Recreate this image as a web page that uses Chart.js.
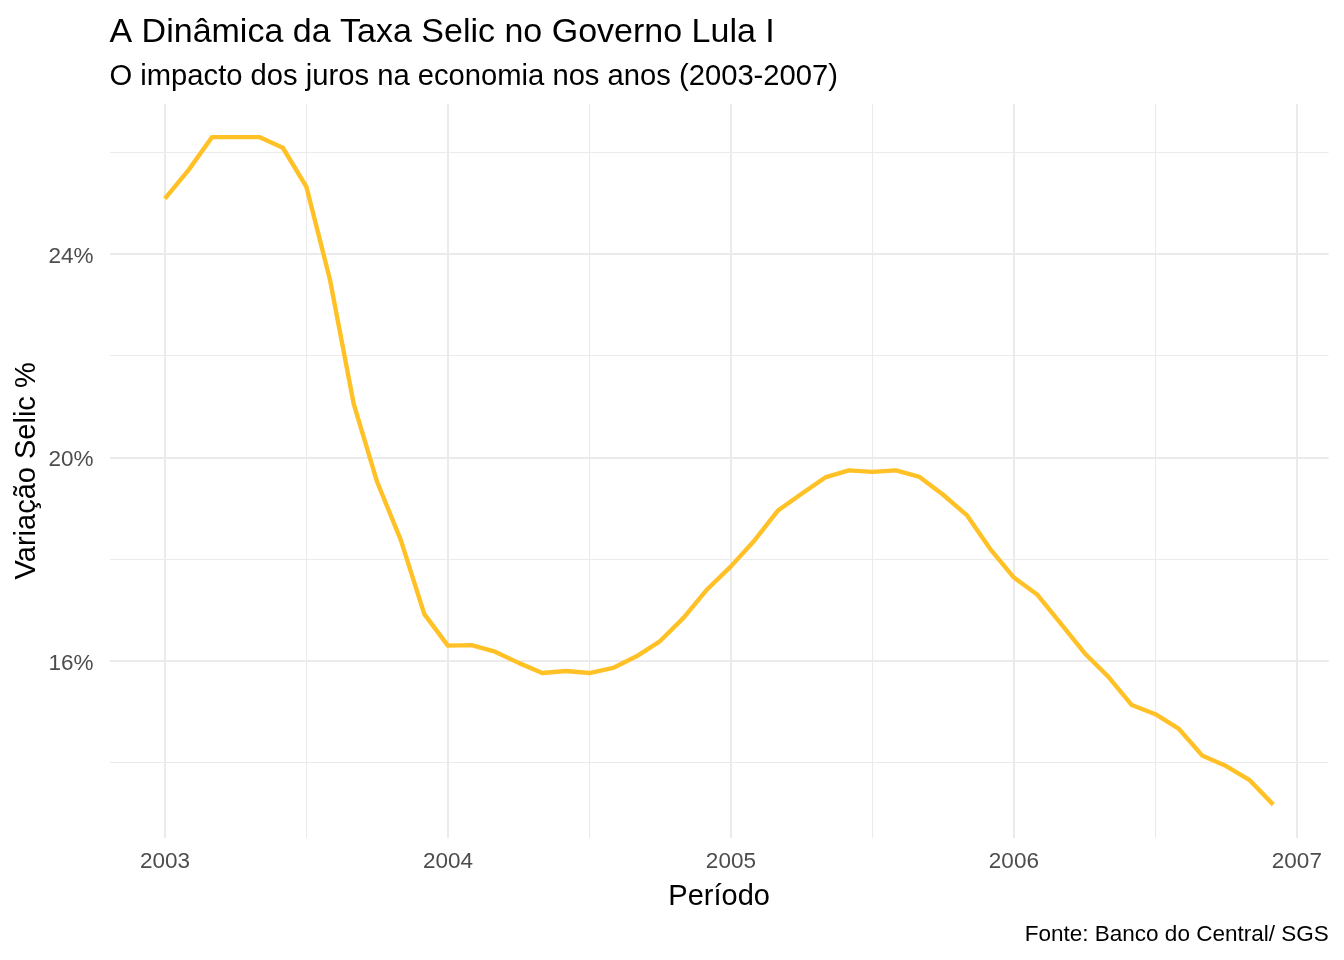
<!DOCTYPE html>
<html lang="pt-BR">
<head>
<meta charset="utf-8">
<title>Taxa Selic - Governo Lula I</title>
<script src="https://cdn.jsdelivr.net/npm/chart.js@4.4.1/dist/chart.umd.min.js"></script>
<style>
  html, body { margin: 0; padding: 0; background: #fff; }
  #wrap { width: 1344px; height: 960px; }
</style>
</head>
<body>
<div id="wrap"><canvas id="selic" width="1344" height="960"></canvas></div>
<script>
// Selic média mensal (% a.a.), jan..dez de cada ano
var selic2003 = [25.10, 25.66, 26.31, 26.31, 26.31, 26.10, 25.33, 23.50, 21.07, 19.52, 18.38, 16.92];
var selic2004 = [16.30, 16.31, 16.18, 15.96, 15.76, 15.80, 15.76, 15.86, 16.09, 16.39, 16.85, 17.41];
var selic2005 = [17.86, 18.37, 18.96, 19.29, 19.61, 19.75, 19.72, 19.75, 19.62, 19.27, 18.87, 18.20];
var selic2006 = [17.64, 17.30, 16.73, 16.15, 15.69, 15.13, 14.95, 14.66, 14.13, 13.93, 13.65, 13.17];
var anos = [2003, 2004, 2005, 2006];

// eixos: linhas principais com rótulo, secundárias sem
var xTicks = [2003, 2003.5, 2004, 2004.5, 2005, 2005.5, 2006, 2006.5, 2007];
var yTicks = [14, 16, 18, 20, 22, 24, 26];
var yLabels = [16, 20, 24];

var titulo = 'A Dinâmica da Taxa Selic no Governo Lula I';
var subtitulo = 'O impacto dos juros na economia nos anos (2003-2007)';
var tituloX = 'Período';
var tituloY = 'Variação Selic %';
var fonte = 'Fonte: Banco do Central/ SGS';

var FONT = '"Liberation Sans", Arial, sans-serif';
var GRADE = '#EBEBEB';

//monta os pontos (x = ano + mês/12)
var serie = [selic2003, selic2004, selic2005, selic2006];
var pontos = [];
serie.forEach(function (valores, i) {
    valores.forEach(function (v, m) {
        pontos.push({ x: anos[i] + m / 12, y: v });
    });
});

//expansão de 5% como no ggplot
function expande(vals) {
    var lo = Math.min.apply(null, vals), hi = Math.max.apply(null, vals);
    var d = (hi - lo) * 0.05;
    return [lo - d, hi + d];
}
var xr = expande(pontos.map(function (p) { return p.x; }));
var yr = expande(pontos.map(function (p) { return p.y; }));

function larguraGrade(ctx, principal) {
    if (!ctx.tick) return 1;
    return principal(ctx.tick.value) ? 2 : 1.1;
}

var textos = {
    id: 'textos',
    afterDraw: function (chart) {
        var c = chart.ctx, area = chart.chartArea;
        c.save();
        c.fillStyle = '#000';
        c.textBaseline = 'alphabetic';
        c.textAlign = 'left';
        c.font = '34px ' + FONT;
        c.fillText(titulo, area.left, 42);
        c.font = '29.2px ' + FONT;
        c.fillText(subtitulo, area.left, 85);
        c.font = '22.5px ' + FONT;
        c.textAlign = 'right';
        c.fillText(fonte, area.right, 941);
        c.restore();
    }
};

var ctx = document.getElementById('selic').getContext('2d');
var grafico = new Chart(ctx, {
    type: 'line',
    data: {
        datasets: [{
            label: 'Selic',
            data: pontos,
            borderColor: '#FFC125',
            borderWidth: 4.4,
            borderJoinStyle: 'round',
            pointRadius: 0,
            tension: 0,
            fill: false
        }]
    },
    options: {
        responsive: false,
        devicePixelRatio: 1,
        animation: false,
        layout: { padding: { top: 103.7, right: 15.3, bottom: 45.6, left: 0 } },
        plugins: {
            legend: { display: false },
            tooltip: { enabled: false }
        },
        scales: {
            x: {
                type: 'linear',
                min: xr[0],
                max: xr[1],
                afterBuildTicks: function (s) {
                    s.ticks = xTicks.map(function (v) { return { value: v }; });
                },
                afterFit: function (s) { s.height = 76.4; },
                border: { display: false },
                grid: {
                    color: GRADE,
                    drawTicks: false,
                    lineWidth: function (c) {
                        return larguraGrade(c, function (v) { return v % 1 === 0; });
                    }
                },
                ticks: {
                    autoSkip: false,
                    maxRotation: 0,
                    padding: 10,
                    color: '#4D4D4D',
                    font: { family: FONT, size: 22.5 },
                    callback: function (v) { return v % 1 === 0 ? String(v) : ''; }
                },
                title: {
                    display: true,
                    text: tituloX,
                    color: '#000',
                    font: { family: FONT, size: 29 },
                    padding: { top: 0, bottom: 0 }
                }
            },
            y: {
                type: 'linear',
                min: yr[0],
                max: yr[1],
                afterBuildTicks: function (s) {
                    s.ticks = yTicks.map(function (v) { return { value: v }; });
                },
                afterFit: function (s) { s.width = 109.5; },
                border: { display: false },
                grid: {
                    color: GRADE,
                    drawTicks: false,
                    lineWidth: function (c) {
                        return larguraGrade(c, function (v) { return yLabels.indexOf(v) >= 0; });
                    }
                },
                ticks: {
                    autoSkip: false,
                    padding: 16,
                    labelOffset: 2.5,
                    color: '#4D4D4D',
                    font: { family: FONT, size: 22.5 },
                    callback: function (v) { return yLabels.indexOf(v) >= 0 ? v + '%' : ''; }
                },
                title: {
                    display: true,
                    text: tituloY,
                    color: '#000',
                    font: { family: FONT, size: 29 },
                    padding: { top: 9.6, bottom: 0 }
                }
            }
        }
    },
    plugins: [textos]
});
</script>
</body>
</html>
